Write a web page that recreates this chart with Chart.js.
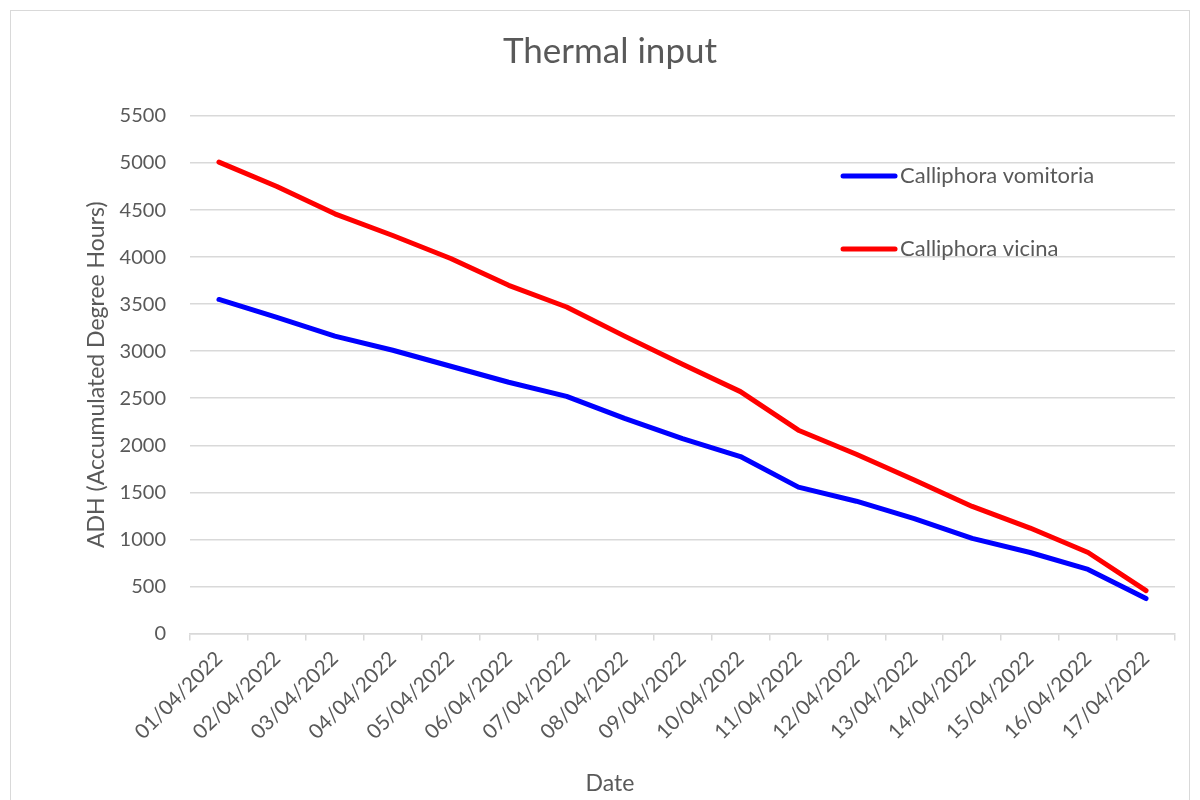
<!DOCTYPE html>
<html>
<head>
<meta charset="utf-8">
<script src="https://cdn.jsdelivr.net/npm/chart.js@4"></script>
<style>
  html, body { margin: 0; padding: 0; background: #ffffff; }
  #frame { position: absolute; left: 10px; top: 10px; width: 1180px; height: 800px; border: 1px solid #d9d9d9; box-sizing: border-box; }
  #wrap { position: absolute; left: 0; top: 0; width: 1200px; height: 800px; }
</style>
</head>
<body>
<div id="frame"></div>
<div id="wrap"><canvas id="chart" width="1200" height="800"></canvas></div>
<script>
const dates = [
  "01/04/2022", "02/04/2022", "03/04/2022", "04/04/2022", "05/04/2022",
  "06/04/2022", "07/04/2022", "08/04/2022", "09/04/2022", "10/04/2022",
  "11/04/2022", "12/04/2022", "13/04/2022", "14/04/2022", "15/04/2022",
  "16/04/2022", "17/04/2022"
];
const vomitoria = [3550, 3360, 3160, 3010, 2840, 2670, 2520, 2285, 2070, 1880, 1555, 1405, 1220, 1010, 860, 680, 370];
const vicina = [5010, 4750, 4460, 4230, 3985, 3700, 3470, 3160, 2860, 2570, 2160, 1905, 1630, 1350, 1120, 860, 455];

const FONT = "Lato, 'Open Sans', sans-serif";
const GREY = "#595959";
const GRID = "#d9d9d9";

// legend drawn inside the plot, top right, like the Excel original
const insideLegend = {
  id: "insideLegend",
  afterDraw(chart) {
    const ctx = chart.ctx;
    const area = chart.chartArea;
    const x0 = area.left + (area.right - area.left) * 0.663;
    const rows = [area.top + 60, area.top + 133];
    ctx.save();
    chart.data.datasets.forEach((ds, i) => {
      const y = rows[i];
      ctx.strokeStyle = ds.borderColor;
      ctx.lineWidth = 5;
      ctx.lineCap = "round";
      ctx.beginPath();
      ctx.moveTo(x0, y);
      ctx.lineTo(x0 + 52, y);
      ctx.stroke();
      ctx.fillStyle = GREY;
      ctx.font = "22px " + FONT;
      ctx.textBaseline = "middle";
      ctx.textAlign = "left";
      ctx.fillText(ds.label, x0 + 57, y);
    });
    ctx.restore();
  }
};

new Chart(document.getElementById("chart"), {
  type: "line",
  data: {
    labels: dates,
    datasets: [
      {
        label: "Calliphora vomitoria",
        data: vomitoria,
        borderColor: "#0000ff",
        backgroundColor: "#0000ff",
        borderWidth: 5,
        borderCapStyle: "round",
        borderJoinStyle: "round",
        pointRadius: 0,
        tension: 0
      },
      {
        label: "Calliphora vicina",
        data: vicina,
        borderColor: "#ff0000",
        backgroundColor: "#ff0000",
        borderWidth: 5,
        borderCapStyle: "round",
        borderJoinStyle: "round",
        pointRadius: 0,
        tension: 0
      }
    ]
  },
  options: {
    responsive: false,
    animation: false,
    layout: { padding: { left: 45, right: 25, top: 0, bottom: 0 } },
    plugins: {
      legend: { display: false },
      tooltip: { enabled: false },
      title: {
        display: true,
        text: "Thermal input",
        color: GREY,
        font: { family: FONT, size: 35, weight: "normal" },
        padding: { top: 31, bottom: 43 }
      },
      // "Date" sits centred under the whole chart, so the subtitle box is used for it
      subtitle: {
        display: true,
        position: "bottom",
        text: "Date",
        color: GREY,
        font: { family: FONT, size: 23, weight: "normal" },
        padding: { top: 0, bottom: 3 }
      }
    },
    scales: {
      x: {
        offset: true,
        grid: {
          offset: true,
          drawOnChartArea: false,
          drawTicks: true,
          tickLength: 7,
          tickColor: GRID,
          lineWidth: 1.5
        },
        border: { color: GRID, width: 1.5 },
        ticks: {
          color: GREY,
          font: { family: FONT, size: 20.5 },
          minRotation: 45,
          maxRotation: 45,
          autoSkip: false,
          padding: 6
        },
        afterFit(scale) { scale.height = 136; }
      },
      y: {
        min: 0,
        max: 5500,
        grid: { color: GRID, lineWidth: 1.5, drawTicks: false },
        border: { display: false },
        ticks: {
          stepSize: 500,
          color: GREY,
          font: { family: FONT, size: 20 },
          padding: 24,
          callback: (v) => String(v)
        },
        title: {
          display: true,
          text: "ADH (Accumulated Degree Hours)",
          color: GREY,
          font: { family: FONT, size: 23 },
          padding: { top: 38, bottom: 0 }
        },
        afterFit(scale) { scale.width = 145; }
      }
    }
  },
  plugins: [insideLegend]
});
</script>
</body>
</html>
